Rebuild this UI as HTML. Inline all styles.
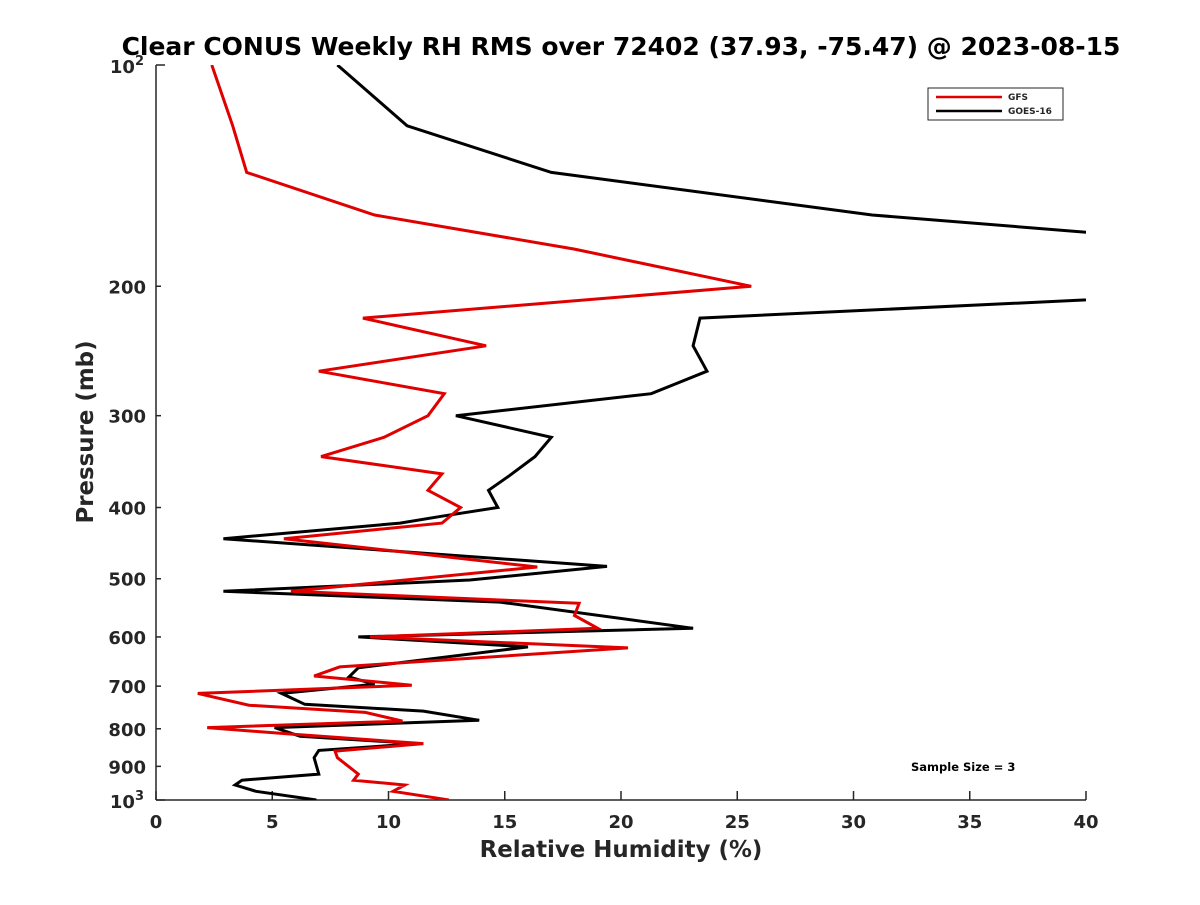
<!DOCTYPE html>
<html><head><meta charset="utf-8"><style>
body{margin:0;background:#fff;}
svg text{font-family:"DejaVu Sans","Liberation Sans",sans-serif;font-weight:bold;fill:#262626;}
</style></head><body>
<svg id="chart" width="1200" height="900" xmlns="http://www.w3.org/2000/svg">
<defs><clipPath id="clip"><rect x="156" y="65" width="930" height="735"/></clipPath></defs>
<rect width="1200" height="900" fill="#fff"/>
<text x="621" y="55" font-size="25" text-anchor="middle" style="fill:#000">Clear CONUS Weekly RH RMS over 72402 (37.93, -75.47) @ 2023-08-15</text>
<g id="axes"></g>
<g id="series" clip-path="url(#clip)"></g>
<text x="621" y="857" font-size="22.9" text-anchor="middle">Relative Humidity (%)</text>
<text transform="translate(93,432) rotate(-90)" font-size="22.9" text-anchor="middle">Pressure (mb)</text>
<g>
<rect x="928" y="88" width="135" height="32" fill="#fff" stroke="#262626" stroke-width="1"/>
<line x1="936" y1="97" x2="1002" y2="97" stroke="#e00000" stroke-width="2.5"/>
<text x="1008" y="100" font-size="9">GFS</text>
<line x1="936" y1="111" x2="1002" y2="111" stroke="#000" stroke-width="2.5"/>
<text x="1008" y="114" font-size="9">GOES-16</text>
</g>
<text x="911" y="771" font-size="11.5" style="fill:#000">Sample Size = 3</text>
</svg>
<script>
const xTicks=[0,5,10,15,20,25,30,35,40];
const yTickLabels=[200,300,400,500,600,700,800,900];
const gfsP=[100,121,140,160,178,200,221,241,261,280,300,321,341,360,379,400,420,441,482,520,540,561,584,600,621,659,678,698,716,743,760,781,797,814,838,858,876,922,940,954,973,1000];
const gfsV=[2.4,3.3,3.9,9.4,18.0,25.6,8.9,14.2,7.0,12.4,11.7,9.8,7.1,12.3,11.7,13.1,12.3,5.5,16.4,5.8,18.2,18.0,19.0,9.2,20.3,7.9,6.8,11.0,1.8,4.0,9.0,10.6,2.2,5.9,11.5,7.7,7.8,8.7,8.5,10.7,10.2,12.6];
const goesP=[100,121,140,160,193,221,241,261,280,300,321,341,362,379,400,411,420,441,481,502,520,538,584,600,619,661,680,696,716,741,757,779,797,819,838,856,876,922,940,954,973,1000];
const goesV=[7.8,10.8,17.0,30.8,62.8,23.4,23.1,23.7,21.3,12.9,17.0,16.3,15.2,14.3,14.7,12.3,10.5,2.9,19.4,13.5,2.9,14.8,23.1,8.7,16.0,8.7,8.3,9.4,5.4,6.4,11.5,13.9,5.1,6.2,11.3,7.0,6.8,7.0,3.7,3.4,4.3,6.9];
const L=156,R=1086,T=65,B=800;
const xs=v=>L+(v/40)*(R-L);
const ys=p=>T+Math.log10(p/100)*(B-T);
const NS='http://www.w3.org/2000/svg';
const ax=document.getElementById('axes');
function mk(tag,attrs,parent){const e=document.createElementNS(NS,tag);for(const k in attrs)e.setAttribute(k,attrs[k]);parent.appendChild(e);return e;}
const xaxis=mk('line',{x1:L,y1:B,x2:R,y2:B,stroke:'#262626','stroke-width':1.5},ax);


const yaxis=mk('line',{x1:L,y1:T,x2:L,y2:B,stroke:'#262626','stroke-width':1.5},ax);


xTicks.forEach(v=>{
  mk('line',{x1:xs(v),y1:B,x2:xs(v),y2:B-9,stroke:'#262626','stroke-width':1.5},ax);
  const t=mk('text',{x:xs(v),y:B+28,'font-size':18,'text-anchor':'middle'},ax);
  t.textContent=v;
  
  
});
[100,200,300,400,500,600,700,800,900,1000].forEach(p=>{
  mk('line',{x1:L,y1:ys(p),x2:L+(p==100||p==1000?9:5),y2:ys(p),stroke:'#262626','stroke-width':1.5},ax);
});
yTickLabels.forEach(p=>{
  const t=mk('text',{x:L-10,y:ys(p)+7,'font-size':18,'text-anchor':'end'},ax);
  t.textContent=p;
  
  
});
[[100,'2'],[1000,'3']].forEach(([p,e])=>{
  const t=mk('text',{x:L-12,y:ys(p)+8,'font-size':18,'text-anchor':'end'},ax);
  t.innerHTML='10<tspan dy="-8" font-size="13">'+e+'</tspan>';
  
  
});
const sg=document.getElementById('series');
function line(P,V,color,name){
  const d=P.map((p,i)=>(i?'L':'M')+xs(V[i]).toFixed(1)+','+ys(p).toFixed(1)).join(' ');
  const e=mk('path',{d:d,fill:'none',stroke:color,'stroke-width':3,'stroke-linejoin':'miter'},sg);
  
  
}
line(goesP,goesV,'#000','goes16-line');
line(gfsP,gfsV,'#e00000','gfs-line');
</script>
</body></html>
